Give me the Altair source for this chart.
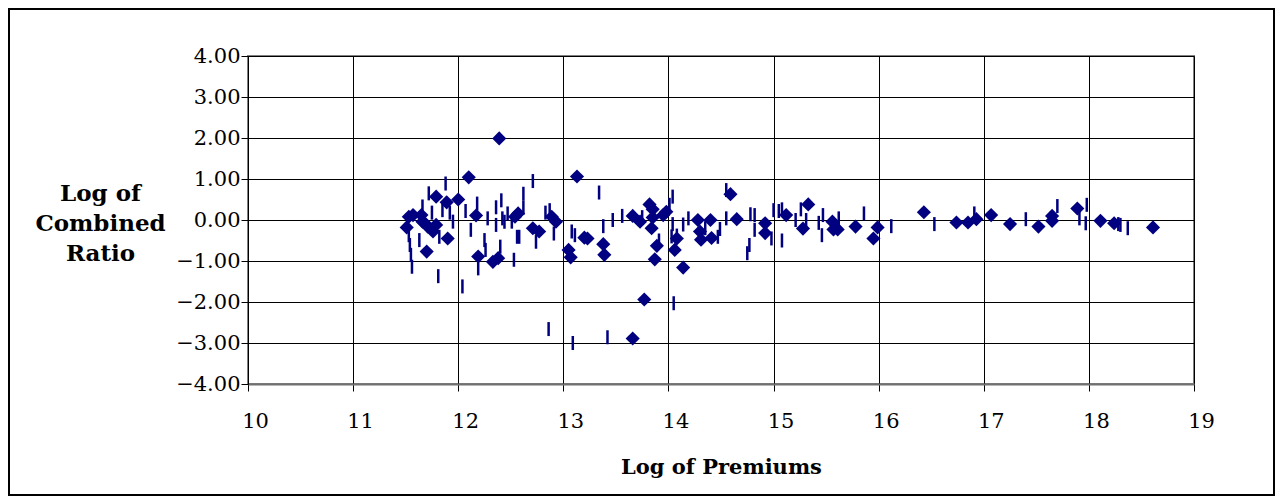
import altair as alt
import pandas as pd

# Series 1: diamonds (log premiums, log combined ratio)
diamond_x = [11.51, 11.53, 11.57, 11.65, 11.66, 11.69, 11.71, 11.76, 11.79, 11.79,
             11.70, 11.89, 11.90, 12.00, 12.10, 12.17, 12.19, 12.33, 12.38, 12.39,
             12.54, 12.57, 12.71, 12.77, 12.89, 12.93, 13.05, 13.07, 13.13, 13.20,
             13.23, 13.38, 13.39, 13.66, 13.66, 13.73, 13.77, 13.82, 13.85, 13.84,
             13.85, 13.89, 13.87, 13.95, 13.98, 14.06, 14.08, 14.14, 14.28, 14.30,
             14.31, 14.40, 14.41, 14.59, 14.65, 14.92, 14.92, 15.12, 15.28, 15.33,
             15.56, 15.57, 15.61, 15.78, 15.95, 15.99, 16.43, 16.74, 16.85, 16.93,
             17.07, 17.25, 17.52, 17.65, 17.65, 17.89, 18.11, 18.24, 18.61]
diamond_y = [-0.18, 0.08, 0.12, 0.12, -0.04, -0.10, -0.16, -0.28, -0.12, 0.57,
             -0.77, 0.43, -0.45, 0.50, 1.04, 0.11, -0.89, -1.02, -0.93, 1.99,
             0.08, 0.16, -0.20, -0.28, 0.08, -0.04, -0.73, -0.91, 1.06, -0.43,
             -0.45, -0.59, -0.85, 0.10, -2.89, -0.04, -1.94, 0.38, 0.26, -0.20,
             0.06, -0.63, -0.96, 0.12, 0.20, -0.73, -0.45, -1.16, 0.00, -0.28,
             -0.48, 0.00, -0.44, 0.63, 0.02, -0.08, -0.32, 0.12, -0.21, 0.38,
             -0.04, -0.23, -0.23, -0.16, -0.45, -0.18, 0.19, -0.06, -0.06, 0.02,
             0.12, -0.10, -0.16, 0.10, -0.02, 0.28, -0.02, -0.08, -0.18]

# Series 2: short vertical dashes
dash_x = [11.53, 11.54, 11.55, 11.56, 11.63, 11.66, 11.72, 11.75, 11.81, 11.82,
          11.85, 11.88, 11.92, 11.95, 12.04, 12.07, 12.12, 12.18, 12.19, 12.25,
          12.26, 12.28, 12.36, 12.36, 12.40, 12.41, 12.42, 12.44, 12.47, 12.51,
          12.53, 12.56, 12.58, 12.62, 12.62, 12.71, 12.74, 12.83, 12.87, 12.86,
          12.91, 13.08, 13.09, 13.11, 13.34, 13.38, 13.42, 13.47, 13.56, 13.75,
          13.91, 14.01, 14.03, 14.04, 14.04, 14.05, 14.08, 14.14, 14.19, 14.35,
          14.47, 14.49, 14.55, 14.55, 14.75, 14.77, 14.78, 14.82, 14.82, 14.98,
          15.00, 15.05, 15.08, 15.08, 15.21, 15.26, 15.31, 15.43, 15.46, 15.47,
          15.62, 15.86, 16.12, 16.53, 16.91, 17.40, 17.70, 17.91, 17.97, 17.98,
          18.28, 18.30, 18.37]
dash_y = [-0.37, -0.61, -0.85, -1.14, -0.49, 0.33, 0.65, 0.18, -1.37, -0.41,
          0.24, 0.89, 0.18, -0.04, -1.62, 0.22, -0.24, 0.40, -1.18, -0.49,
          -0.73, 0.04, 0.31, -0.12, -0.65, 0.48, 0.04, -0.04, 0.16, -0.04,
          -0.97, -0.41, -0.41, 0.64, 0.30, 0.95, -0.53, 0.18, 0.24, -2.66,
          -0.33, -0.28, -3.00, -0.37, 0.67, -0.15, -2.86, 0.00, 0.10, 0.07,
          -0.50, 0.37, -0.40, 0.57, -0.10, -2.03, -0.38, -0.11, 0.04, -0.20,
          -0.41, -0.22, 0.04, 0.73, -0.81, -0.61, 0.14, 0.12, -0.24, -0.45,
          0.24, 0.22, -0.50, 0.26, 0.00, 0.26, 0.00, -0.07, -0.37, 0.12,
          0.04, 0.16, -0.15, -0.10, 0.16, 0.02, 0.34, 0.04, -0.08, 0.37,
          -0.10, -0.12, -0.20]

x_ticks = list(range(10, 20))
y_ticks = [-4, -3, -2, -1, 0, 1, 2, 3, 4]

df_d = pd.DataFrame({"x": diamond_x, "y": diamond_y})
df_t = pd.DataFrame({"x": dash_x, "y": dash_y})

W, H = 946, 328
PL, PT, PR, PB = 240, 48, 81, 112
SERIF = "DejaVu Serif"
NAVY = "#000080"

xscale = alt.Scale(domain=[10, 19], nice=False, zero=False)
yscale = alt.Scale(domain=[-4, 4], nice=False, zero=False)

xaxis = alt.Axis(values=x_ticks, format="d", grid=True, gridColor="#000000", gridWidth=1,
                 tickColor="#000000", tickSize=7, labelFont=SERIF, labelFontSize=21,
                 labelColor="#000000", labelPadding=19, labelFlush=False, labelOffset=7,
                 domainColor="#707070", domainWidth=2,
                 title="Log of Premiums", titleFont=SERIF, titleFontSize=21,
                 titleFontWeight="bold", titleColor="#000000",
                 titleX=W / 2, titleY=83, titleBaseline="middle", titleAlign="center")
yaxis = alt.Axis(values=y_ticks, format=".2f", grid=True, gridColor="#000000", gridWidth=1,
                 tickColor="#000000", tickSize=7, labelFont=SERIF, labelFontSize=21,
                 labelColor="#000000", labelPadding=1, labelFlush=False,
                 domainColor="#000000", domainWidth=1,
                 title=["Log of", "Combined", "Ratio"], titleFont=SERIF, titleFontSize=23,
                 titleFontWeight="bold", titleColor="#000000", titleAngle=0,
                 titleAlign="center", titleBaseline="middle", titleLineHeight=30,
                 titleX=-148, titleY=137)

diamonds = alt.Chart(df_d).mark_point(shape="diamond", filled=True, size=200, color=NAVY, opacity=1).encode(
    x=alt.X("x:Q", scale=xscale, axis=xaxis),
    y=alt.Y("y:Q", scale=yscale, axis=yaxis),
)
dashes = alt.Chart(df_t).mark_tick(orient="vertical", size=14, thickness=2.5, color=NAVY, opacity=1).encode(
    x=alt.X("x:Q", scale=xscale),
    y=alt.Y("y:Q", scale=yscale),
)
frame = alt.Chart(df_d).mark_rect(fill=None, stroke="#000000", strokeWidth=2, clip=False).encode(
    x=alt.value(-PL + 1), x2=alt.value(W + PR - 1),
    y=alt.value(-PT + 1), y2=alt.value(H + PB - 1),
)

chart = alt.layer(frame, dashes, diamonds).properties(
    width=W, height=H,
    autosize=alt.AutoSizeParams(type="none"),
    padding={"left": PL, "top": PT, "right": PR, "bottom": PB},
    background="white",
).configure_view(stroke="#808080", strokeWidth=2)

chart.save("out.html", embed_options={"renderer": "svg", "actions": False})
